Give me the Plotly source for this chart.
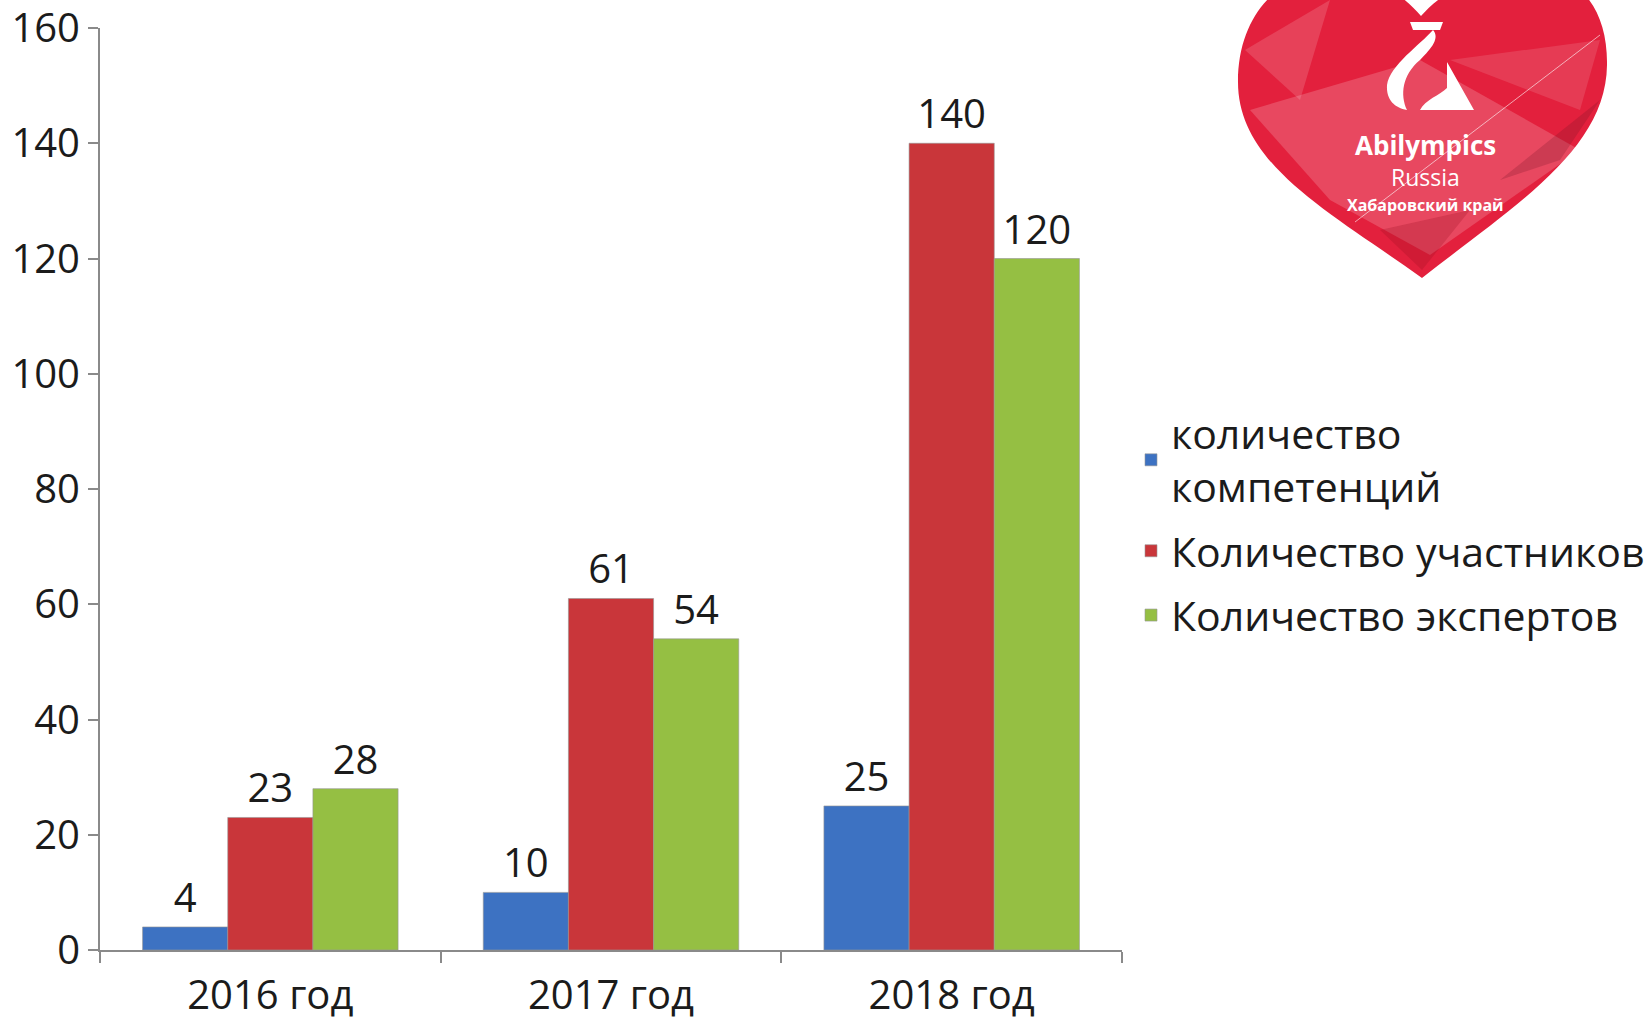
import plotly.graph_objects as go

# ---- data ----
categories = ["2016 год", "2017 год", "2018 год"]
competencies = [4, 10, 25]
participants = [23, 61, 140]
experts = [28, 54, 120]
series_names = ["количество<br>компетенций", "Количество участников", "Количество экспертов"]
series_colors = ["#3D72C2", "#C9363A", "#95BF43"]
y_ticks = [0, 20, 40, 60, 80, 100, 120, 140, 160]

W, H = 1652, 1018
L, R, T, B = 100, 1122, 28, 950  # plot area in pixels


def px(x):
    return (x - L) / (R - L)


def py(y):
    return (B - y) / (B - T)


FONT = "Open Sans, DejaVu Sans, sans-serif"
TXT = "#1b1b1b"

fig = go.Figure()
for i, (name, vals, col) in enumerate(zip(series_names, [competencies, participants, experts], series_colors)):
    fig.add_trace(go.Bar(
        x=categories, y=vals, name=name, legendgroup=f"g{i}",
        marker=dict(color=col, line=dict(width=1, color="rgba(150,150,150,0.6)")),
        text=[str(v) for v in vals], textposition="outside",
        textfont=dict(size=40, color=TXT, family=FONT),
        cliponaxis=False, hoverinfo="skip",
    ))

fig.update_layout(
    width=W, height=H,
    margin=dict(l=L, r=W - R, t=T, b=H - B, pad=0, autoexpand=False),
    paper_bgcolor="white", plot_bgcolor="white",
    barmode="group", bargap=0.25, bargroupgap=0,
    font=dict(family=FONT, color=TXT),
    showlegend=True,
    legend=dict(
        x=px(1131), y=py(400), xanchor="left", yanchor="top",
        font=dict(size=41, family=FONT, color=TXT),
        bgcolor="rgba(0,0,0,0)", tracegroupgap=8, itemwidth=30,
    ),
)

fig.update_yaxes(
    range=[0, 160], tickvals=y_ticks, showgrid=False, zeroline=False,
    showline=True, linecolor="#8a8a8a", linewidth=2,
    ticks="outside", ticklen=10, tickcolor="#8a8a8a", tickwidth=2,
    tickfont=dict(size=40, family=FONT, color=TXT),
    ticklabeloverflow="allow", automargin=False,
)
fig.update_xaxes(
    showgrid=False, showline=True, linecolor="#8a8a8a", linewidth=2,
    ticks="outside", ticklen=11, tickcolor="#8a8a8a", tickwidth=2,
    tickson="boundaries", tickfont=dict(size=40, family=FONT, color=TXT),
    ticklabelstandoff=9, ticklabeloverflow="allow", automargin=False,
)


# ---- decorative logo (heart) ----
def pth(cmds):
    out = []
    for c in cmds:
        if isinstance(c, str):
            out.append(c)
        else:
            out.append(f"{px(c[0]):.5f},{py(c[1]):.5f}")
    return " ".join(out)


heart = pth([
    "M", (1422, 278),
    "C", (1330, 212), (1238, 165), (1238, 82),
    "C", (1238, 10), (1285, -28), (1330, -28),
    "C", (1370, -28), (1400, -8), (1421, 16),
    "C", (1442, -8), (1480, -30), (1525, -30),
    "C", (1575, -30), (1608, 5), (1607, 65),
    "C", (1606, 150), (1515, 205), (1422, 278), "Z",
])
shapes = [dict(type="path", xref="paper", yref="paper", path=heart,
               fillcolor="#E3203D", line=dict(width=0), layer="above")]

facets = [
    ([(1250, 110), (1420, 60), (1580, 150), (1430, 255), (1330, 200)], "rgba(255,255,255,0.18)"),
    ([(1245, 50), (1330, 0), (1300, 100)], "rgba(255,255,255,0.15)"),
    ([(1450, 60), (1600, 40), (1580, 110)], "rgba(255,255,255,0.12)"),
    ([(1500, 180), (1600, 100), (1560, 160)], "rgba(120,20,40,0.25)"),
    ([(1380, 230), (1470, 210), (1422, 270)], "rgba(150,10,30,0.25)"),
]
for pts, col in facets:
    cmds = ["M", pts[0]]
    for p in pts[1:]:
        cmds += ["L", p]
    cmds.append("Z")
    shapes.append(dict(type="path", xref="paper", yref="paper", path=pth(cmds),
                       fillcolor=col, line=dict(width=0), layer="above"))

shapes.append(dict(type="line", xref="paper", yref="paper",
                   x0=px(1355), y0=py(222), x1=px(1600), y1=py(35),
                   line=dict(color="rgba(255,255,255,0.6)", width=1), layer="above"))

# stylised "A" emblem
emblem = [
    pth(["M", (1410, 22), "L", (1443, 22), "L", (1440, 30), "L", (1413, 30), "Z"]),
    pth(["M", (1433, 30), "C", (1420, 45), (1390, 65), (1387, 85),
         "C", (1386, 100), (1395, 108), (1407, 110),
         "C", (1400, 95), (1402, 75), (1420, 60),
         "C", (1432, 48), (1440, 38), (1433, 30), "Z"]),
    pth(["M", (1447, 62), "L", (1474, 110), "L", (1420, 110),
         "C", (1425, 100), (1440, 95), (1447, 88), "Z"]),
]
for e in emblem:
    shapes.append(dict(type="path", xref="paper", yref="paper", path=e,
                       fillcolor="white", line=dict(width=0), layer="above"))

fig.update_layout(shapes=shapes)

logo_texts = [
    ("Abilympics", 1425, 145, 26, "Open Sans", True),
    ("Russia", 1425, 177, 23, "Open Sans", False),
    ("Хабаровский край", 1425, 205, 16, "Open Sans", True),
]
for txt, x, y, s, fam, bold in logo_texts:
    fig.add_annotation(
        x=px(x), y=py(y), xref="paper", yref="paper",
        text=f"<b>{txt}</b>" if bold else txt, showarrow=False,
        font=dict(size=s, color="white", family=fam),
        xanchor="center", yanchor="middle",
    )

fig.write_html(
    "out.html",
    config={"displayModeBar": False, "staticPlot": True},
    post_script="document.body.style.margin='0';document.body.style.overflow='hidden';",
)
